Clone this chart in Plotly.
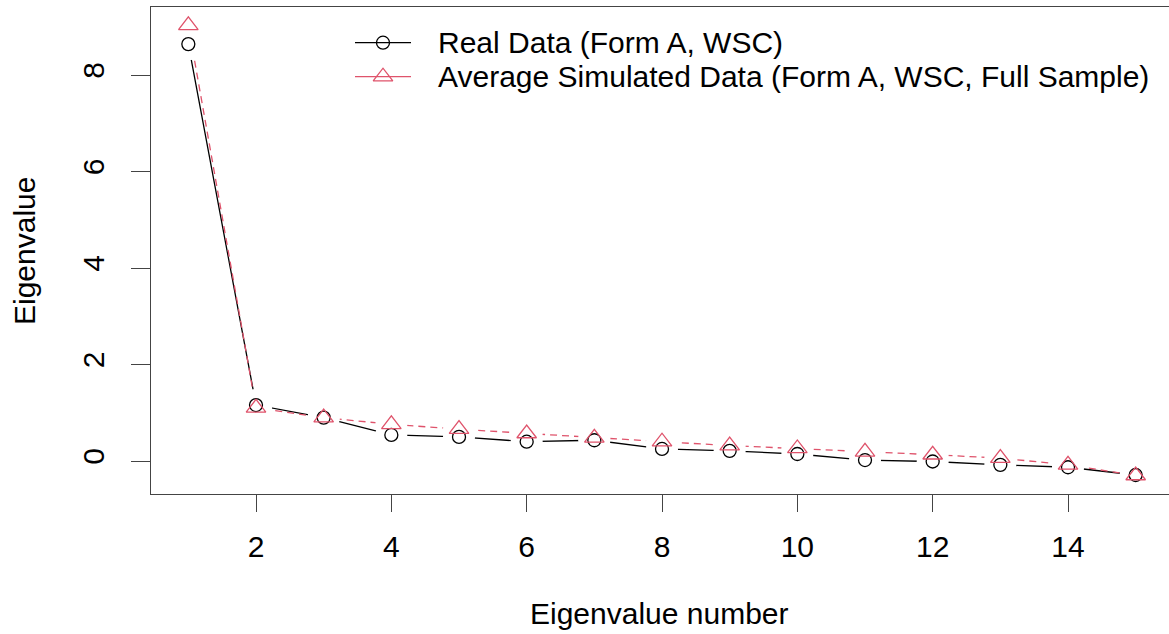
import plotly.graph_objects as go

# ---- data ----
eig_number = list(range(1, 16))
real_data = [8.64, 1.16, 0.90, 0.54, 0.50, 0.40, 0.43, 0.25, 0.21, 0.145, 0.02, -0.01, -0.08, -0.13, -0.29]
sim_data = [9.03, 1.10, 0.90, 0.76, 0.66, 0.57, 0.48, 0.40, 0.32, 0.26, 0.19, 0.13, 0.06, -0.08, -0.30]
x_ticks = [2, 4, 6, 8, 10, 12, 14]
y_ticks = [0, 2, 4, 6, 8]
legend_labels = ["Real Data (Form A, WSC)", "Average Simulated Data (Form A, WSC, Full Sample)"]
x_title = "Eigenvalue number"
y_title = "Eigenvalue"

BLACK = "#000000"
RED = "#DF536B"
AX = "#444444"
FONT = "Liberation Sans, Arial, sans-serif"
FS = 30

W, H = 1169, 634
L, R, T, B = 151, 0, 7, 140
PW, PH = W - L - R, H - T - B


def px(xp):
    return (xp - L) / PW


def py(yp):
    return (H - B - yp) / PH


fig = go.Figure()
fig.add_trace(go.Scatter(x=eig_number, y=real_data, mode="lines",
                         line=dict(color=BLACK, width=1.3), showlegend=False))
fig.add_trace(go.Scatter(x=eig_number, y=sim_data, mode="lines",
                         line=dict(color=RED, width=1.3, dash="7px,5px"), showlegend=False))
# white masks to create the gaps around points (type="b" style)
fig.add_trace(go.Scatter(x=eig_number + eig_number, y=real_data + sim_data, mode="markers",
                         marker=dict(symbol="circle", size=32, color="white", line=dict(width=0)),
                         showlegend=False, hoverinfo="skip"))
fig.add_trace(go.Scatter(x=eig_number, y=real_data, mode="markers",
                         marker=dict(symbol="circle-open", size=13, color=BLACK, line=dict(width=1.3)),
                         showlegend=False))
fig.add_trace(go.Scatter(x=eig_number, y=sim_data, mode="markers",
                         marker=dict(symbol="triangle-up-open", size=17, color=RED, line=dict(width=1.3)),
                         showlegend=False))

# legend (manual, pixel overlay axes)
leg_y = [42.7, 76.7]
leg_cols = [BLACK, RED]
leg_sym = ["circle-open", "triangle-up-open"]
leg_size = [13, 17]
for i in range(2):
    fig.add_shape(type="line", xref="x2", yref="y2", x0=355, x1=411, y0=leg_y[i], y1=leg_y[i],
                  line=dict(color=leg_cols[i], width=1.3))
    fig.add_trace(go.Scatter(x=[383], y=[leg_y[i]], xaxis="x2", yaxis="y2", mode="markers",
                             marker=dict(symbol=leg_sym[i], size=leg_size[i], color=leg_cols[i],
                                         line=dict(width=1.3)),
                             showlegend=False, hoverinfo="skip"))
    fig.add_annotation(xref="x2", yref="y2", x=436, y=leg_y[i], text=legend_labels[i],
                       showarrow=False, xanchor="left", yanchor="middle",
                       font=dict(family=FONT, size=FS, color="#000000"))

# axis titles
fig.add_annotation(xref="paper", yref="paper", x=px(659), y=py(613), text=x_title, showarrow=False,
                   xanchor="center", yanchor="middle", font=dict(family=FONT, size=FS, color="#000000"))
fig.add_annotation(xref="paper", yref="paper", x=px(24), y=py(251), text=y_title, showarrow=False,
                   textangle=-90, xanchor="center", yanchor="middle",
                   font=dict(family=FONT, size=FS, color="#000000"))

x0 = 120.67
unit = 67.667
y0px = 461.0
yunit = 48.25
xr = [(L - x0) / unit, (W - R - x0) / unit]
yr = [(y0px - (H - B)) / yunit, (y0px - T) / yunit]

fig.update_layout(
    width=W, height=H,
    margin=dict(l=L, r=R, t=T, b=B, pad=0),
    plot_bgcolor="white", paper_bgcolor="white",
    showlegend=False,
    xaxis=dict(range=xr, tickvals=x_ticks, ticktext=[str(v) for v in x_ticks],
               showgrid=False, zeroline=False, showline=True, linecolor=AX, linewidth=1.3,
               mirror=True, ticks="outside", ticklen=17, tickwidth=1.3, tickcolor=AX,
               ticklabelstandoff=9,
               tickfont=dict(family=FONT, size=FS, color="#000000")),
    yaxis=dict(range=yr, tickvals=y_ticks, ticktext=[str(v) for v in y_ticks],
               showgrid=False, zeroline=False, showline=True, linecolor=AX, linewidth=1.3,
               mirror=False, ticks="outside", ticklen=19, tickwidth=1.3, tickcolor=AX,
               tickangle=-90, ticklabelstandoff=15,
               tickfont=dict(family=FONT, size=FS, color="#000000")),
    xaxis2=dict(range=[L, W - R], overlaying="x", visible=False, fixedrange=True),
    yaxis2=dict(range=[H - B, T], overlaying="y", visible=False, fixedrange=True),
)

fig.write_html("out.html", config={"displayModeBar": False},
               post_script="document.body.style.margin='0';document.documentElement.style.overflow='hidden';")
